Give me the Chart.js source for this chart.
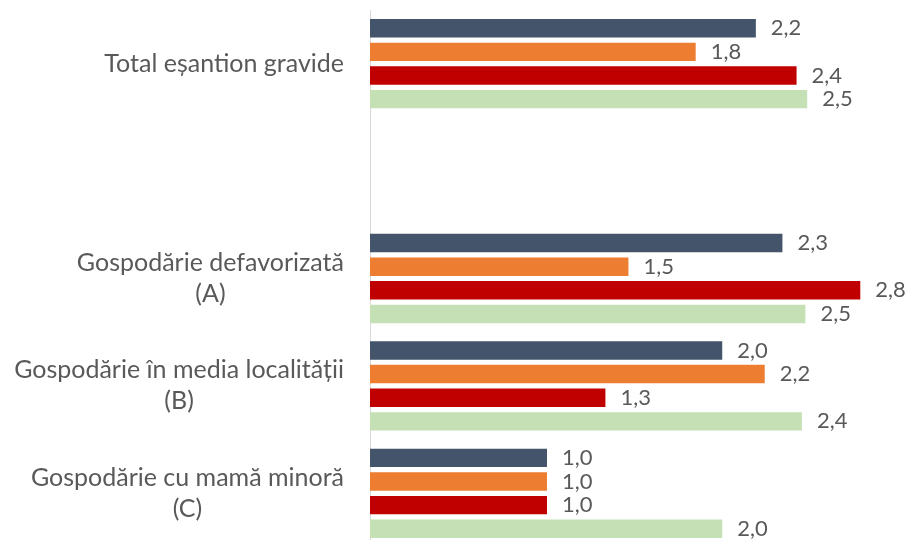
<!DOCTYPE html>
<html>
<head>
<meta charset="utf-8">
<script src="https://cdn.jsdelivr.net/npm/chart.js@4"></script>
<style>
  html, body { margin: 0; padding: 0; background: #fff; overflow: hidden; }
  #wrap { position: relative; width: 917px; height: 547px; }
</style>
</head>
<body>
<div id="wrap"><canvas id="barChart"></canvas></div>
<script>
// categories (one empty slot between the total and the groups)
var categories = [
    ['Total eșantion gravide'],
    [''],
    ['Gospodărie defavorizată', '(A)'],
    ['Gospodărie în media localității', '(B)'],
    ['Gospodărie cu mamă minoră', '(C)']
];

var serie1 = [2.18, null, 2.33, 1.99, 1.0];
var serie2 = [1.84, null, 1.46, 2.23, 1.0];
var serie3 = [2.41, null, 2.77, 1.33, 1.0];
var serie4 = [2.47, null, 2.46, 2.44, 1.99];

var colors = ['#44546a', '#ed7d31', '#c00000', '#c5e0b4'];

var FONT = 'Lato, sans-serif';

// value labels at the bar ends, "2,2" style
var valueLabels = {
    id: 'valueLabels',
    afterDatasetsDraw: function(chart){
        var ctx = chart.ctx;
        ctx.save();
        ctx.font = '22px ' + FONT;
        ctx.fillStyle = '#595959';
        ctx.textAlign = 'left';
        ctx.textBaseline = 'middle';
        chart.data.datasets.forEach(function(ds, i){
            var meta = chart.getDatasetMeta(i);
            meta.data.forEach(function(bar, j){
                var v = ds.data[j];
                if (v === null) return;
                ctx.fillText(v.toFixed(1).replace('.', ','), bar.x + 15, bar.y);
            });
        });
        ctx.restore();
    }
};

// category labels: right aligned block, lines centred in it
var categoryLabels = {
    id: 'categoryLabels',
    afterDraw: function(chart){
        var ctx = chart.ctx;
        var yScale = chart.scales.y;
        var right = chart.chartArea.left - 26;
        var lineH = 31;
        ctx.save();
        ctx.font = '25px ' + FONT;
        ctx.fillStyle = '#595959';
        ctx.textAlign = 'center';
        ctx.textBaseline = 'middle';
        categories.forEach(function(lines, i){
            var widest = 0;
            lines.forEach(function(l){ widest = Math.max(widest, ctx.measureText(l).width); });
            var cx = right - widest / 2;
            var cy = yScale.getPixelForValue(i);
            var y0 = cy - (lines.length - 1) * lineH / 2;
            lines.forEach(function(l, k){
                ctx.fillText(l, cx, y0 + k * lineH);
            });
        });
        ctx.restore();
    }
};

var barData = {
    labels: categories.map(function(c){ return c.join(' '); }),
    datasets: [
        { label: 's1', data: serie1, backgroundColor: colors[0] },
        { label: 's2', data: serie2, backgroundColor: colors[1] },
        { label: 's3', data: serie3, backgroundColor: colors[2] },
        { label: 's4', data: serie4, backgroundColor: colors[3] }
    ]
};

const config = {
    type: 'bar',
    data: barData,
    options: {
        indexAxis: 'y',
        responsive: true,
        maintainAspectRatio: false,
        animation: false,
        layout: { padding: { top: 10, right: 16, bottom: 0, left: 0 } },
        datasets: {
            bar: { barPercentage: 0.78, categoryPercentage: 0.88, borderWidth: 0 }
        },
        plugins: {
            legend: { display: false },
            tooltip: { enabled: false }
        },
        scales: {
            x: {
                display: false,
                min: 0,
                max: 3
            },
            y: {
                grid: { display: false },
                ticks: { display: false },
                border: { color: '#d9d9d9', width: 1 },
                afterFit: function(scale){ scale.width = 370; }
            }
        }
    },
    plugins: [valueLabels, categoryLabels]
};

const barChart = new Chart(
    document.getElementById('barChart'),
    config
);
</script>
</body>
</html>
